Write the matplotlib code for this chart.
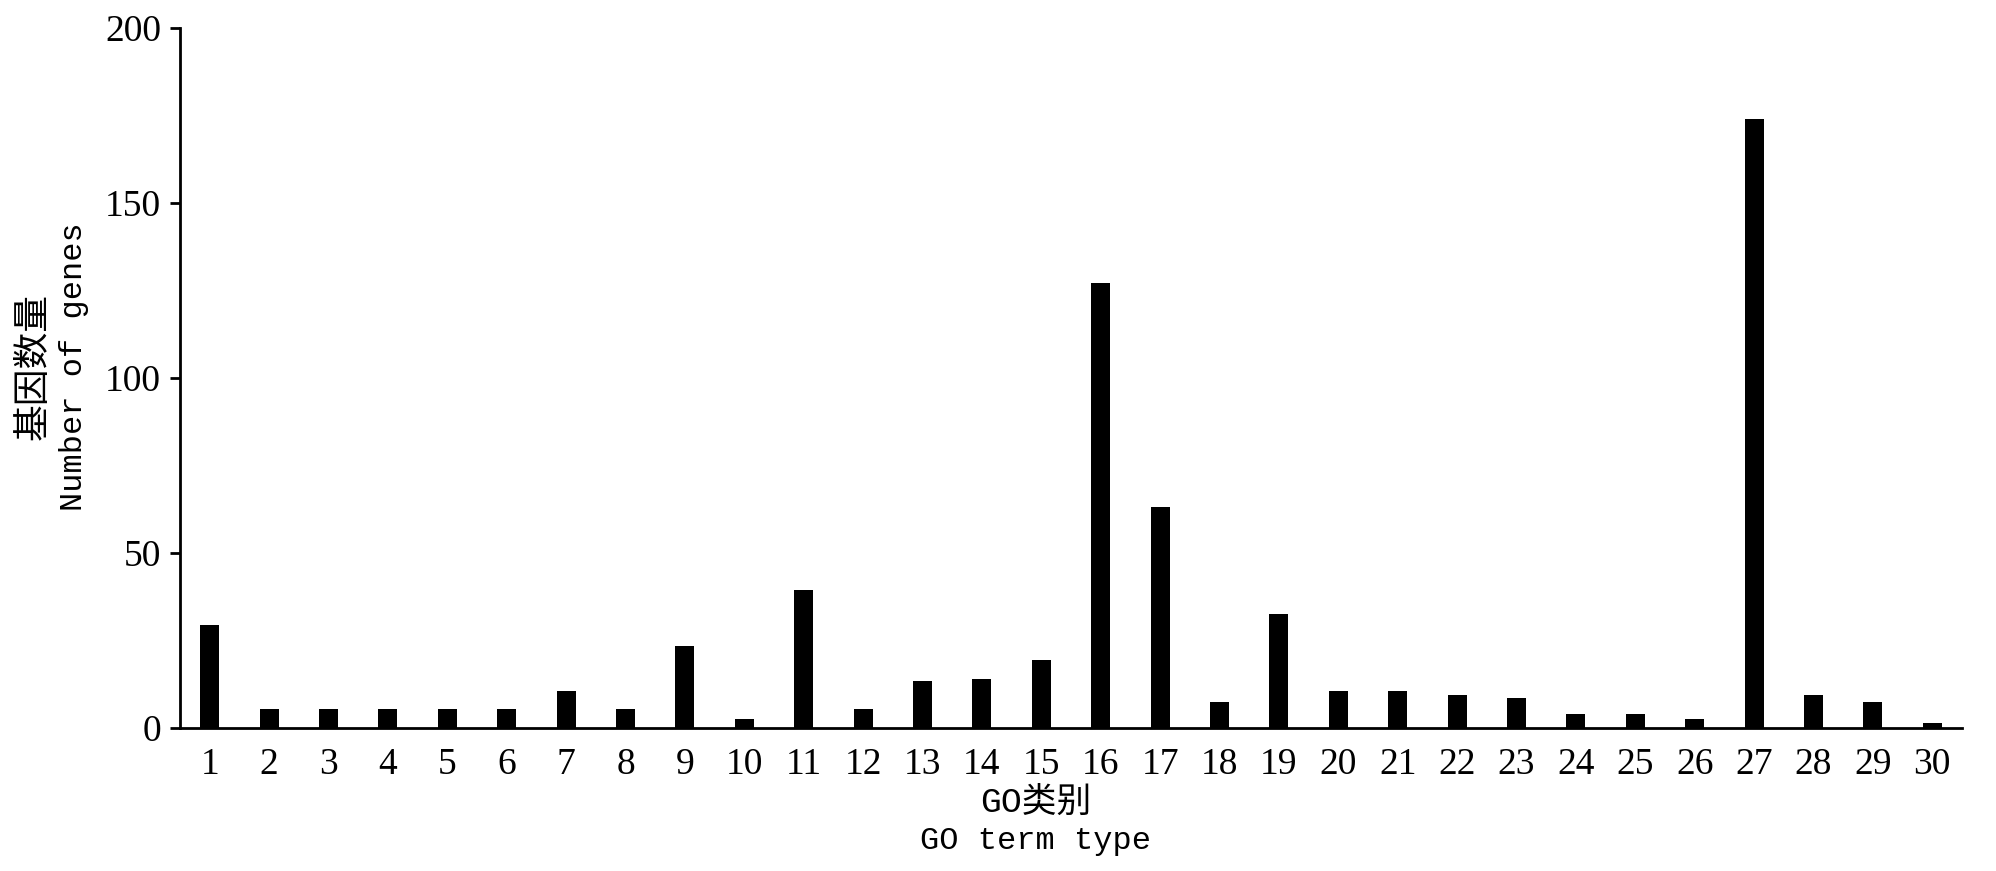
import numpy as np
import matplotlib
matplotlib.use("Agg")
import matplotlib.pyplot as plt

# GO term categories 1..30 and gene counts
go_terms = list(range(1, 31))
gene_counts = [29.5, 5.5, 5.5, 5.5, 5.5, 5.5, 10.5, 5.5, 23.5, 2.5,
               39.5, 5.5, 13.5, 14, 19.5, 127, 63, 7.5, 32.5, 10.5,
               10.5, 9.5, 8.5, 4, 4, 2.5, 174, 9.5, 7.5, 1.5]
y_ticks = [0, 50, 100, 150, 200]

tick_font = ['Liberation Serif', 'Noto Sans CJK SC']
label_font = ['Liberation Mono', 'Noto Sans CJK SC']


def main():
    fig = plt.figure(figsize=(19.96, 8.71), dpi=100)
    ax = fig.add_axes([180 / 1996, 1 - 728 / 871, 1782 / 1996, 700 / 871])

    ax.bar(go_terms, gene_counts, width=0.32, color='black')

    ax.set_xlim(0.5, 30.5)
    ax.set_ylim(0, 200)
    ax.set_xticks(go_terms)
    ax.set_xticklabels([str(t) for t in go_terms])
    ax.set_yticks(y_ticks)

    for side in ['top', 'right']:
        ax.spines[side].set_visible(False)
    for side in ['left', 'bottom']:
        ax.spines[side].set_linewidth(2.0)
        ax.spines[side].set_color('black')

    ax.tick_params(axis='y', length=7.5, width=2.0, direction='out', pad=6)
    ax.tick_params(axis='x', length=0, pad=14)
    for lbl in ax.get_xticklabels() + ax.get_yticklabels():
        lbl.set_family(tick_font)
        lbl.set_fontsize(27)

    # axis titles (Chinese + English, two lines each)
    fig.text(34.5 / 1996, 1 - 367 / 871, '基因数量', rotation=90,
             ha='center', va='center', fontsize=26.5, family=label_font)
    fig.text(74 / 1996, 1 - 367 / 871, 'Number of genes', rotation=90,
             ha='center', va='center', fontsize=23, family=label_font)
    fig.text(1036 / 1996, 1 - 802 / 871, 'GO类别',
             ha='center', va='center', fontsize=25, family=label_font)
    fig.text(1036 / 1996, 1 - 841 / 871, 'GO term type',
             ha='center', va='center', fontsize=23, family=label_font)

    fig.savefig('out.png', dpi=100)


if __name__ == "__main__":
    main()
